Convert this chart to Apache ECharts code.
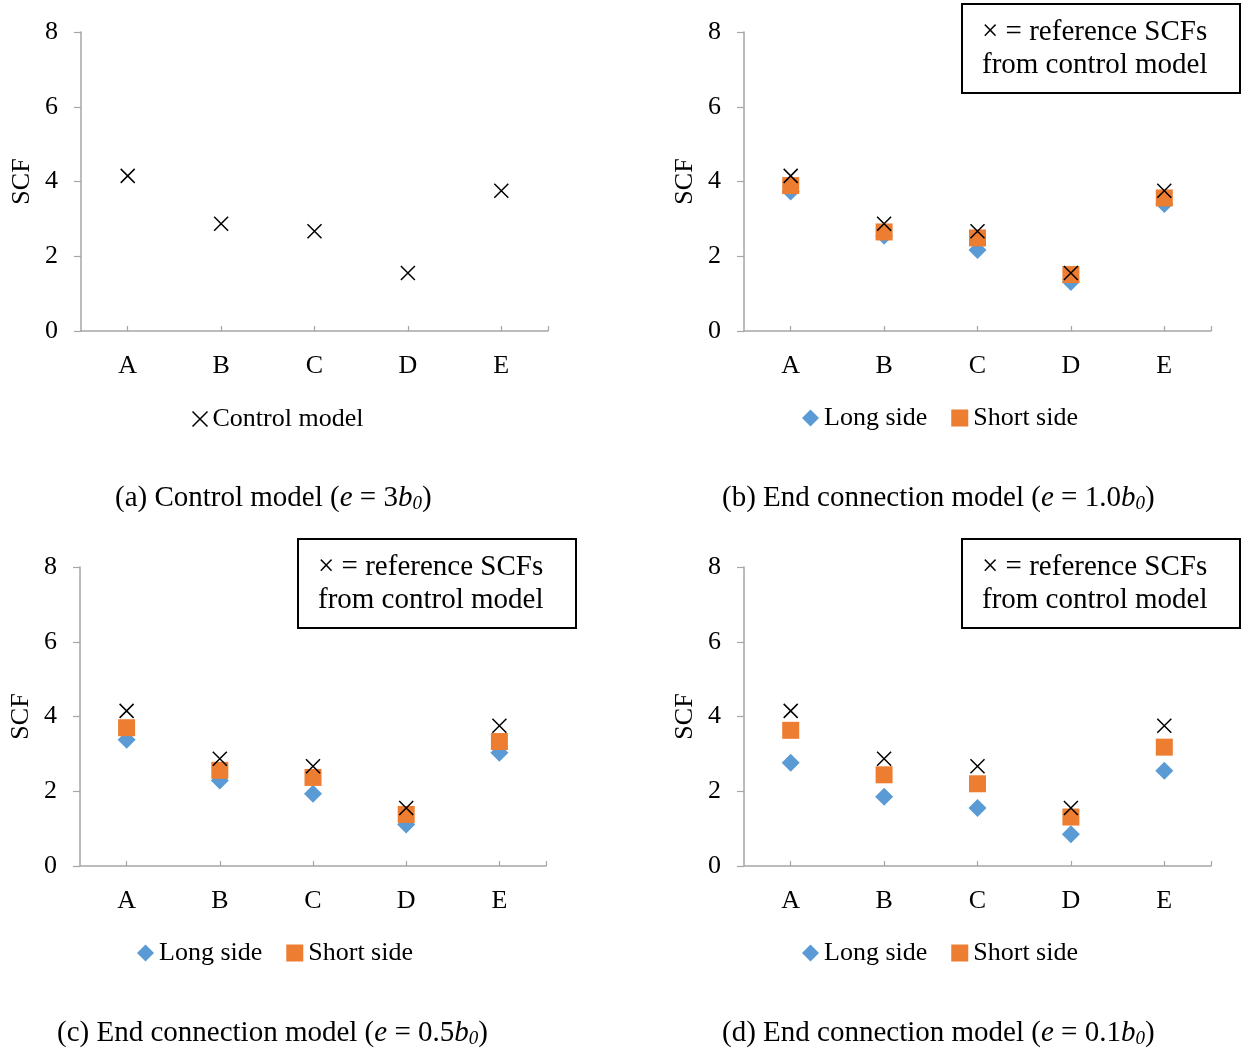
<!DOCTYPE html>
<html>
<head>
<meta charset="utf-8">
<title>SCF comparison</title>
<script src="https://cdn.jsdelivr.net/npm/echarts@6/dist/echarts.min.js"></script>
<style>
  html, body { margin: 0; padding: 0; background: #fff; }
  #chart { width: 1241px; height: 1052px; }
</style>
</head>
<body>
<div id="chart"></div>
<script>
// Hot spot locations along the connection
const categories = ['A', 'B', 'C', 'D', 'E'];
const yTicks = [0, 2, 4, 6, 8];

// Control model (e = 3b0) — also the reference SCFs in panels b–d
const controlModel = [4.15, 2.87, 2.67, 1.55, 3.75];

// End connection model, e = 1.0b0
const longSide10 = [3.73, 2.55, 2.17, 1.31, 3.40];
const shortSide10 = [3.89, 2.65, 2.49, 1.51, 3.56];

// End connection model, e = 0.5b0
const longSide05 = [3.38, 2.29, 1.93, 1.11, 3.03];
const shortSide05 = [3.70, 2.56, 2.37, 1.38, 3.33];

// End connection model, e = 0.1b0
const longSide01 = [2.76, 1.85, 1.55, 0.85, 2.55];
const shortSide01 = [3.63, 2.44, 2.20, 1.31, 3.18];

const FONT = '"Liberation Serif", "Times New Roman", serif';
const AXIS_GRAY = '#a6a6a6';
const BLUE = '#5b9bd5';
const ORANGE = '#ed7d31';
const CROSS = 'path://M0,0L10,10M10,0L0,10';

// Category i sits in the middle of slot [i, i+1]
const pts = vals => vals.map((v, i) => [i + 0.5, v]);

const grids = [
  { left: 81, top: 32, width: 467, height: 299 },
  { left: 744, top: 32, width: 467, height: 299 },
  { left: 80, top: 567, width: 466, height: 299 },
  { left: 744, top: 567, width: 467, height: 299 }
];

const xAxes = grids.map((g, k) => ({
  type: 'value', gridIndex: k, min: 0, max: categories.length,
  axisLine: { show: true, lineStyle: { color: AXIS_GRAY, width: 1.5 } },
  axisTick: {
    show: true, inside: true, length: 5,
    lineStyle: { color: AXIS_GRAY, width: 1.2 },
    customValues: categories.map((c, i) => i + 0.5).concat([categories.length])
  },
  axisLabel: {
    customValues: categories.map((c, i) => i + 0.5),
    formatter: v => categories[Math.floor(v)],
    fontFamily: FONT, fontSize: 26, color: '#000', margin: 22
  },
  splitLine: { show: false }
}));

const yAxes = grids.map((g, k) => ({
  type: 'value', gridIndex: k, min: yTicks[0], max: yTicks[yTicks.length - 1], interval: 2,
  name: 'SCF', nameLocation: 'middle', nameGap: 46, nameRotate: 90,
  nameTextStyle: { fontFamily: FONT, fontSize: 26, color: '#000' },
  axisLine: { show: true, lineStyle: { color: AXIS_GRAY, width: 1.5 } },
  axisTick: { show: true, inside: false, length: 7, lineStyle: { color: AXIS_GRAY, width: 1.2 } },
  axisLabel: { fontFamily: FONT, fontSize: 26, color: '#000', margin: 23 },
  splitLine: { show: false }
}));

function crossSeries(name, k) {
  return {
    name: name, type: 'scatter', xAxisIndex: k, yAxisIndex: k,
    data: pts(controlModel), symbol: CROSS, symbolSize: 14, z: 5,
    itemStyle: { color: 'none', borderColor: '#000', borderWidth: 1.5, opacity: 1 }
  };
}
function longSeries(vals, k) {
  return {
    name: 'Long side', type: 'scatter', xAxisIndex: k, yAxisIndex: k,
    data: pts(vals), symbol: 'diamond', symbolSize: 18, z: 3,
    itemStyle: { color: BLUE, opacity: 1 }
  };
}
function shortSeries(vals, k) {
  return {
    name: 'Short side', type: 'scatter', xAxisIndex: k, yAxisIndex: k,
    data: pts(vals), symbol: 'rect', symbolSize: 17, z: 4,
    itemStyle: { color: ORANGE, opacity: 1 }
  };
}

const series = [
  crossSeries('Control model', 0),
  longSeries(longSide10, 1), shortSeries(shortSide10, 1), crossSeries('reference SCFs', 1),
  longSeries(longSide05, 2), shortSeries(shortSide05, 2), crossSeries('reference SCFs', 2),
  longSeries(longSide01, 3), shortSeries(shortSide01, 3), crossSeries('reference SCFs', 3)
];

const legendText = { fontFamily: FONT, fontSize: 26, color: '#000' };
function sideLegend(left, top) {
  return {
    left: left, top: top, padding: 0, itemGap: 24, itemWidth: 17, itemHeight: 17,
    selectedMode: false, textStyle: legendText,
    data: [{ name: 'Long side', icon: 'diamond', itemStyle: { opacity: 1 } },
           { name: 'Short side', icon: 'rect', itemStyle: { opacity: 1 } }]
  };
}
const legends = [
  {
    left: 190, top: 406, padding: 0, itemWidth: 15, itemHeight: 15, selectedMode: false,
    textStyle: legendText,
    data: [{ name: 'Control model', icon: CROSS,
             itemStyle: { color: 'none', borderColor: '#000', borderWidth: 1.5, opacity: 1 } }]
  },
  sideLegend(802, 405),
  sideLegend(137, 940),
  sideLegend(802, 940)
];

const titleRich = {
  t: { fontFamily: FONT, fontSize: 29, fontWeight: 'normal', color: '#000' },
  i: { fontFamily: FONT, fontSize: 29, fontWeight: 'normal', color: '#000', fontStyle: 'italic' },
  s: { fontFamily: FONT, fontSize: 19, fontWeight: 'normal', color: '#000', fontStyle: 'italic',
       padding: [10, 0, 0, 0] }
};
function caption(text, left, top) {
  return { text: text, left: left, top: top, padding: 0,
           textStyle: { rich: titleRich, fontFamily: FONT, fontSize: 29, fontWeight: 'normal', color: '#000' } };
}
const titles = [
  caption('{t|(a) Control model (}{i|e}{t| = 3}{i|b}{s|0}{t|)}', 115, 484),
  caption('{t|(b) End connection model (}{i|e}{t| = 1.0}{i|b}{s|0}{t|)}', 722, 484),
  caption('{t|(c) End connection model (}{i|e}{t| = 0.5}{i|b}{s|0}{t|)}', 57, 1019),
  caption('{t|(d) End connection model (}{i|e}{t| = 0.1}{i|b}{s|0}{t|)}', 722, 1019)
];

// Boxed note explaining the cross markers
function noteBox(x, y) {
  return {
    type: 'group', left: x, top: y,
    children: [
      { type: 'rect', shape: { x: 0, y: 0, width: 278, height: 89 },
        style: { fill: '#fff', stroke: '#000', lineWidth: 2 } },
      { type: 'text', x: 20, y: 12,
        style: { text: '× = reference SCFs\nfrom control model', font: '29px ' + FONT,
                 lineHeight: 33, fill: '#000' } }
    ]
  };
}

const chart = echarts.init(document.getElementById('chart'), null, { renderer: 'canvas' });
chart.setOption({
  backgroundColor: '#fff',
  animation: false,
  title: titles,
  legend: legends,
  grid: grids,
  xAxis: xAxes,
  yAxis: yAxes,
  series: series,
  graphic: [noteBox(961, 3), noteBox(297, 538), noteBox(961, 538)]
});
</script>
</body>
</html>
